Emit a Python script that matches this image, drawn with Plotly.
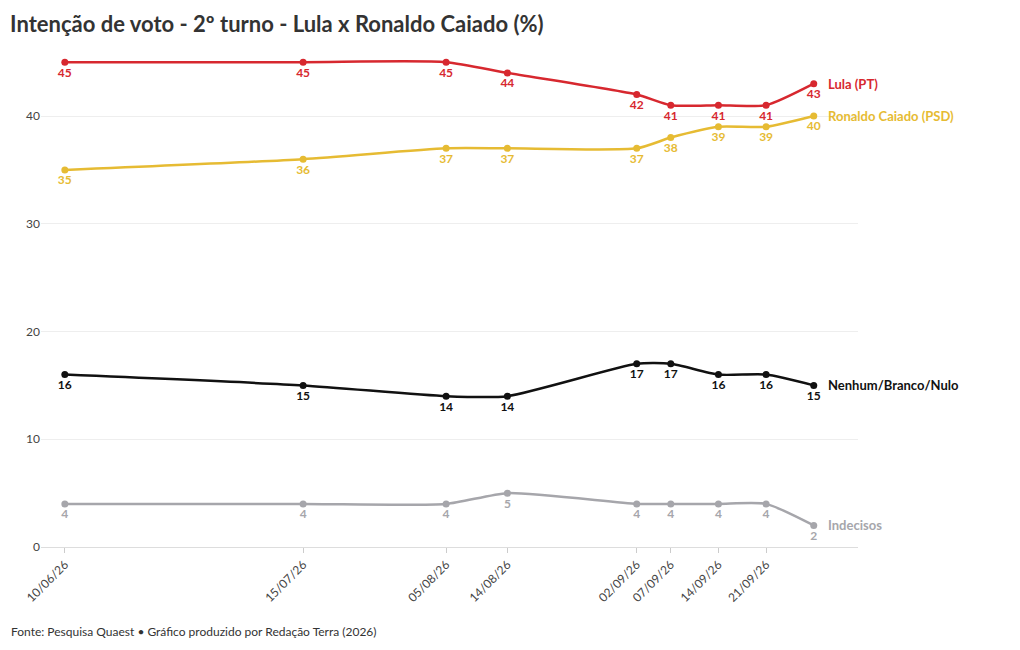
import plotly.graph_objects as go

dates = ["2026-06-10","2026-07-15","2026-08-05","2026-08-14","2026-09-02","2026-09-07","2026-09-14","2026-09-21","2026-09-28"]
tick_labels = ["10/06/26","15/07/26","05/08/26","14/08/26","02/09/26","07/09/26","14/09/26","21/09/26"]
lula = [45,45,45,44,42,41,41,41,43]
caiado = [35,36,37,37,37,38,39,39,40]
nulo = [16,15,14,14,17,17,16,16,15]
indecisos = [4,4,4,5,4,4,4,4,2]

series = [("Lula (PT)", lula, "#d7282f"),
          ("Ronaldo Caiado (PSD)", caiado, "#e6bb33"),
          ("Nenhum/Branco/Nulo", nulo, "#111111"),
          ("Indecisos", indecisos, "#a6a6ab")]

fig = go.Figure()
for name, vals, col in series:
    fig.add_trace(go.Scatter(x=dates, y=vals, mode="lines+markers+text", name=name,
        line=dict(color=col, width=2.5, shape="spline", smoothing=0.6),
        marker=dict(color=col, size=7),
        text=[str(v) for v in vals], textposition="bottom center",
        textfont=dict(color=col, size=12, family="Lato", weight="bold"),
        hoverinfo="skip", showlegend=False))
    fig.add_annotation(x=dates[-1], y=vals[-1], text=name, showarrow=False,
        xanchor="left", xshift=12, font=dict(color=col, size=13, family="Lato", weight="bold"))

fig.update_layout(
    width=1020, height=650, plot_bgcolor="white", paper_bgcolor="white",
    margin=dict(l=33, r=170, t=38, b=111),
    font=dict(family="Lato", color="#333"),
    title=dict(text="<b>Intenção de voto - 2º turno - Lula x Ronaldo Caiado (%)</b>",
               x=0.002, xanchor="left", y=0.975, yanchor="middle", font=dict(size=22, color="#333")),
    xaxis=dict(type="date", range=["2026-06-06 12:00","2026-10-04 12:00"],
               tickvals=dates[:8], ticktext=tick_labels, tickangle=-45,
               showgrid=False, showline=True, linecolor="#ddd", ticks="outside",
               tickcolor="#ccc", ticklen=5, tickfont=dict(size=12, color="#444")),
    yaxis=dict(range=[0, 46.5], tickvals=[0,10,20,30,40], showgrid=True,
               gridcolor="#eeeeee", zeroline=False, tickfont=dict(size=12, color="#444")),
)
fig.add_annotation(text="Fonte: Pesquisa Quaest • Gráfico produzido por Redação Terra (2026)",
    xref="paper", yref="paper", x=-0.039, y=-0.15, xanchor="left", yanchor="top",
    showarrow=False, font=dict(size=12, color="#333"))
fig.write_html("out.html")
